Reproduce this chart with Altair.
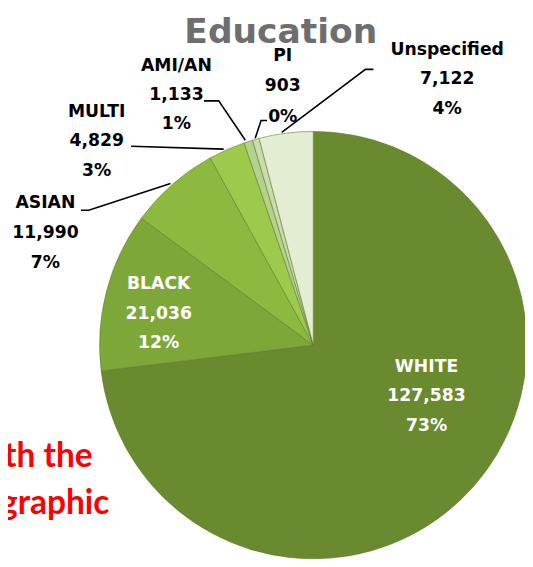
import altair as alt
import pandas as pd

# ---- data ----
groups = ["WHITE", "BLACK", "ASIAN", "MULTI", "AMI/AN", "PI", "Unspecified"]
counts = [127583, 21036, 11990, 4829, 1133, 903, 7122]
percents = ["73%", "12%", "7%", "3%", "1%", "0%", "4%"]
slice_colors = ["#6a8a30", "#7ea73a", "#8cba40", "#9dca4c", "#b6d28a", "#c9dbb0", "#e3edd2"]

# ---- layout (reference page pixels; the page margin is 8px) ----
M = 8
CX, CY, R = 318 - M, 346 - M, 217
# label anchor (centre x, baseline y of first line) per group
label_x = [433, 161, 46, 98, 179, 287, 454]
label_y = [373, 289, 207, 114, 68, 57, 51]
line_gap = [30, 30, 30.5, 30, 29.5, 31, 30]
label_color = ["white", "white", "black", "black", "black", "black", "black"]

# leader lines (reference pixels), one polyline per outside label
leaders = {
    "ASIAN": [(82, 209), (90, 209), (173, 182)],
    "MULTI": [(133, 144), (227, 147)],
    "AMI/AN": [(207, 98), (222, 98), (249, 138)],
    "PI": [(271, 118), (265, 118), (259, 136)],
    "Unspecified": [(379, 66), (371, 66), (286, 130)],
}

pie_df = pd.DataFrame({
    "group": groups,
    "count": counts,
    "order": list(range(len(groups))),
})

rows = []
for i, g in enumerate(groups):
    lines = [g, f"{counts[i]:,}", percents[i]]
    for j, t in enumerate(lines):
        rows.append({
            "text": t,
            "x": label_x[i] - M,
            "y": label_y[i] - M + j * line_gap[i],
            "color": label_color[i],
        })
lab_df = pd.DataFrame(rows)

lead_rows = []
for g, pts in leaders.items():
    for k, (px, py) in enumerate(pts):
        lead_rows.append({"group": g, "k": k, "x": px - M, "y": py - M})
lead_df = pd.DataFrame(lead_rows)

W, H = 533 - M, 567 - M

pie = alt.Chart(pie_df).mark_arc(
    radius=R, stroke="#5f7d2a", strokeWidth=1, strokeOpacity=0.6
).encode(
    theta=alt.Theta("count:Q", stack=True),
    order=alt.Order("order:Q"),
    color=alt.Color("group:N", scale=alt.Scale(domain=groups, range=slice_colors), legend=None),
    x=alt.value(CX),
    y=alt.value(CY),
)

lines = alt.Chart(lead_df).mark_line(color="black", strokeWidth=1.6).encode(
    x=alt.X("x:Q", scale=None, axis=None),
    y=alt.Y("y:Q", scale=None, axis=None),
    detail="group:N",
    order="k:Q",
)

labels = alt.Chart(lab_df).mark_text(
    font="DejaVu Sans", fontWeight="bold", fontSize=17.5, align="center", baseline="alphabetic"
).encode(
    x=alt.X("x:Q", scale=None, axis=None),
    y=alt.Y("y:Q", scale=None, axis=None),
    text="text:N",
    color=alt.Color("color:N", scale=None),
)

title_df = pd.DataFrame({"text": ["Education"], "x": [285 - M], "y": [39 - M]})
title = alt.Chart(title_df).mark_text(
    font="DejaVu Sans", fontWeight="bold", fontSize=35, color="#6e6e6e",
    align="center", baseline="alphabetic"
).encode(
    x=alt.X("x:Q", scale=None, axis=None),
    y=alt.Y("y:Q", scale=None, axis=None),
    text="text:N",
)

red_df = pd.DataFrame({"text": ["th the", "graphic"], "x": [94 - M, 111 - M], "y": [470 - M, 517 - M]})
red = alt.Chart(red_df).mark_text(
    font="Lato", fontWeight="bold", fontSize=34, color="#ff0000",
    align="right", baseline="alphabetic"
).encode(
    x=alt.X("x:Q", scale=None, axis=None),
    y=alt.Y("y:Q", scale=None, axis=None),
    text="text:N",
)

chart = alt.layer(pie, lines, title, red, labels).properties(
    width=W, height=H, padding=0,
    autosize=alt.AutoSizeParams(type="none"),
).configure_view(stroke=None)

chart.save("out.html", embed_options={"renderer": "svg", "actions": False})
